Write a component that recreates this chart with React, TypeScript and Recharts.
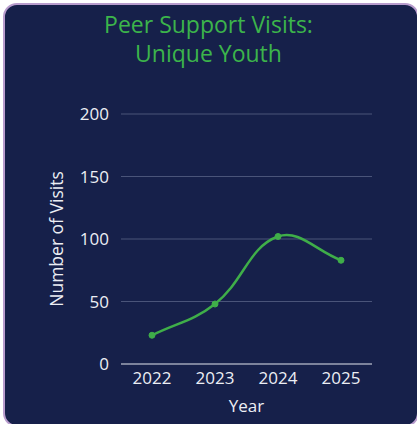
import { LineChart, Line, XAxis, YAxis, CartesianGrid, Label } from "recharts";

const years = ["2022", "2023", "2024", "2025"];
const visits = [23, 48, 102, 83];
const yTicks = [0, 50, 100, 150, 200];

const data = years.map((year, i) => ({ year, visits: visits[i] }));

const GREEN = "#3fae49";
const TEXT = "#eceef4";
const FONT = "'Open Sans', Lato, sans-serif";

// Chart.js-style spline (tension 0.4) as a d3 curve factory
function splineCurve(context: any) {
  let pts: [number, number][] = [];
  const t = 0.4;
  return {
    areaStart() {},
    areaEnd() {},
    lineStart() {
      pts = [];
    },
    point(x: number, y: number) {
      pts.push([+x, +y]);
    },
    lineEnd() {
      const n = pts.length;
      if (!n) return;
      const cps = pts.map((cur, i) => {
        const prev = pts[i - 1] || cur;
        const next = pts[i + 1] || cur;
        const d01 = Math.hypot(cur[0] - prev[0], cur[1] - prev[1]);
        const d12 = Math.hypot(next[0] - cur[0], next[1] - cur[1]);
        let s01 = d01 / (d01 + d12);
        let s12 = d12 / (d01 + d12);
        if (isNaN(s01)) s01 = 0;
        if (isNaN(s12)) s12 = 0;
        const fa = t * s01;
        const fb = t * s12;
        return {
          prev: [cur[0] - fa * (next[0] - prev[0]), cur[1] - fa * (next[1] - prev[1])],
          next: [cur[0] + fb * (next[0] - prev[0]), cur[1] + fb * (next[1] - prev[1])],
        };
      });
      context.moveTo(pts[0][0], pts[0][1]);
      for (let i = 1; i < n; i++) {
        const a = cps[i - 1].next;
        const b = cps[i].prev;
        context.bezierCurveTo(a[0], a[1], b[0], b[1], pts[i][0], pts[i][1]);
      }
    },
  };
}

export default function App() {
  return (
    <div style={{ position: "absolute", left: 0, top: 0, width: 417, height: 424, background: "#ffffff", overflow: "hidden" }}>
      <div
        style={{
          position: "absolute",
          left: 3,
          top: 3,
          width: 416,
          height: 424,
          boxSizing: "border-box",
          background: "#16204a",
          border: "2px solid #b89ccd",
          borderRadius: 14,
        }}
      />
      <div
        style={{
          position: "absolute",
          left: 0,
          top: 10,
          width: 417,
          textAlign: "center",
          color: "#3cb44b",
          fontFamily: FONT,
          fontSize: 23,
          lineHeight: "29px",
        }}
      >
        Peer Support Visits:
        <br />
        Unique Youth
      </div>
      <div style={{ position: "absolute", left: 0, top: 0 }}>
        <LineChart width={417} height={424} data={data} margin={{ top: 114, right: 45, bottom: 0, left: 0 }}>
          <CartesianGrid stroke="#4a5479" vertical={false} />
          <XAxis
            dataKey="year"
            height={60}
            padding={{ left: 31, right: 31 }}
            tickLine={false}
            stroke="#c9ccd8"
            tick={{ fill: TEXT, fontSize: 17, fontFamily: FONT }}
          >
            <Label value="Year" position="insideBottom" offset={12} fill={TEXT} fontSize={17} fontFamily={FONT} />
          </XAxis>
          <YAxis
            width={121}
            domain={[0, 200]}
            ticks={yTicks}
            axisLine={false}
            tickLine={false}
            tickMargin={6}
            tick={{ fill: TEXT, fontSize: 17, fontFamily: FONT }}
          >
            <Label
              value="Number of Visits"
              angle={-90}
              position="insideLeft"
              offset={57}
              fill={TEXT}
              fontSize={17.5}
              fontFamily={FONT}
              style={{ textAnchor: "middle" }}
            />
          </YAxis>
          <Line
            type={splineCurve as any}
            dataKey="visits"
            stroke={GREEN}
            strokeWidth={2.5}
            dot={{ r: 3, fill: GREEN, stroke: GREEN, strokeWidth: 1 }}
            isAnimationActive={false}
          />
        </LineChart>
      </div>
    </div>
  );
}
